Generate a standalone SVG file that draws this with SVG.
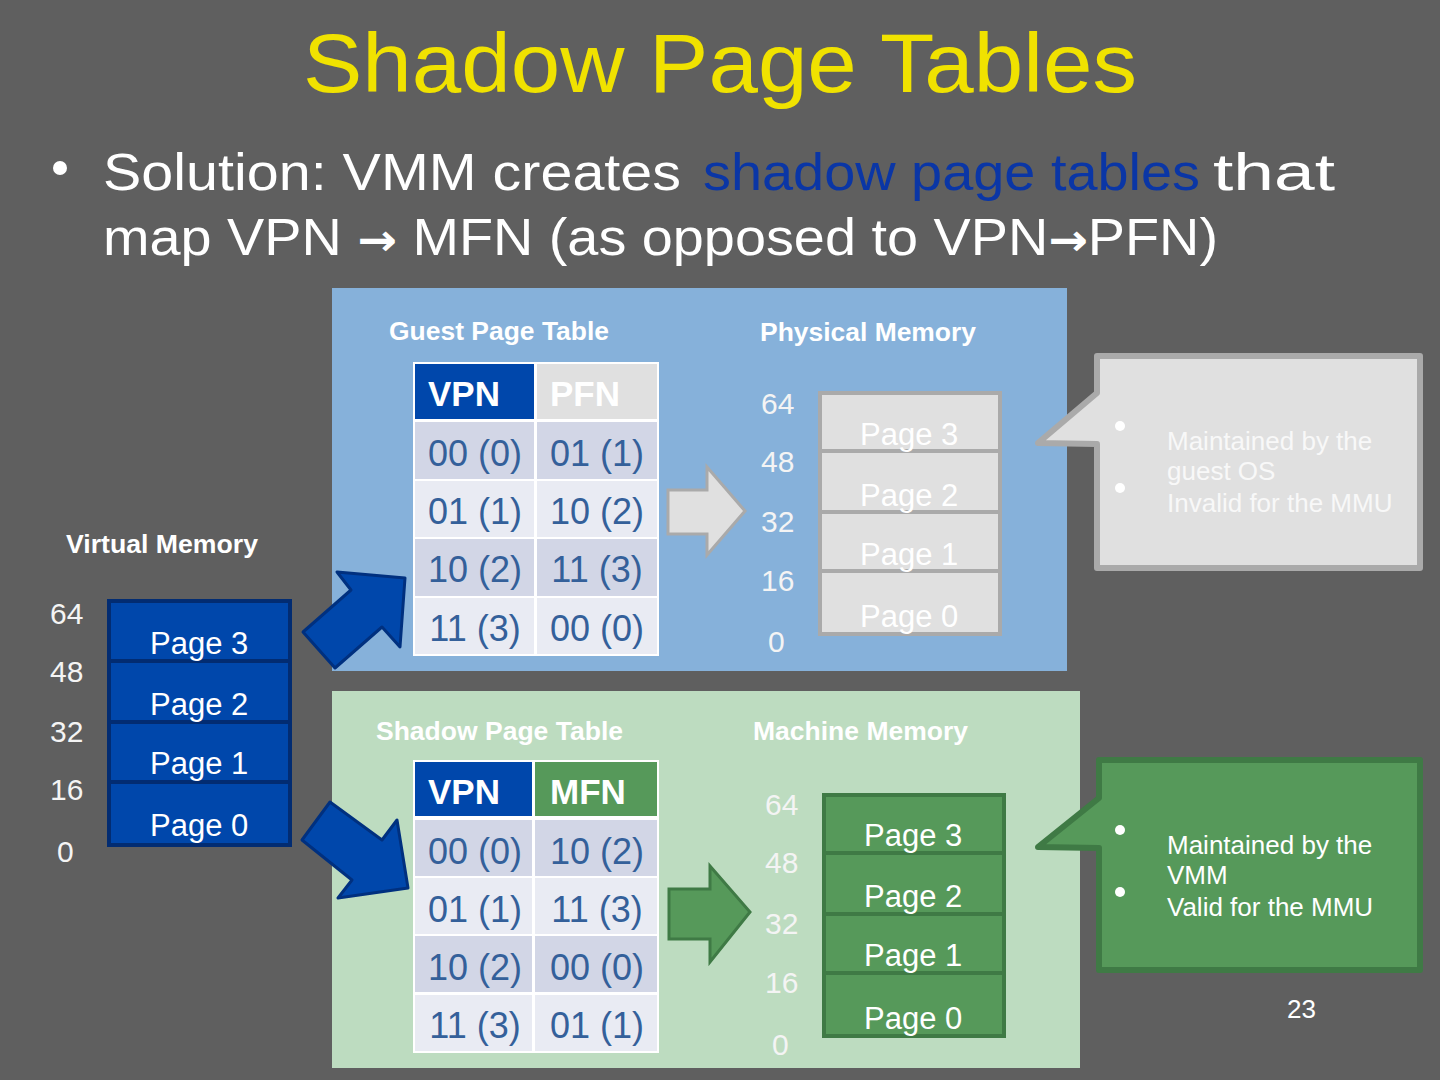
<svg xmlns="http://www.w3.org/2000/svg" width="1440" height="1080" viewBox="0 0 1440 1080">
<style>
.t{font-family:"Liberation Sans",Arial,sans-serif}
.lbl{font-family:"Liberation Sans",Arial,sans-serif;font-weight:bold;font-size:25px;fill:#ffffff}
.num{font-family:"Liberation Sans",Arial,sans-serif;font-size:30px;fill:#f4f4f4}
.pg{font-family:"Liberation Sans",Arial,sans-serif;font-size:31px;fill:#ffffff}
.cell{font-family:"Liberation Sans",Arial,sans-serif;font-size:36px;fill:#34609a;text-anchor:middle}
.hdr{font-family:"Liberation Sans",Arial,sans-serif;font-size:35px;font-weight:bold;fill:#ffffff}
.rd{fill:#d2d6e6}
.rl{fill:#e9ebf3}
.co{font-family:"Liberation Sans",Arial,sans-serif;font-size:26px}
.bul{font-family:"Comic Sans MS","Liberation Sans",sans-serif;font-size:52px;fill:#ffffff}
.ar{font-family:"DejaVu Sans",sans-serif;font-size:44px;font-weight:bold}
</style>
<rect width="1440" height="1080" fill="#5f5f5f"/>
<text x="720" y="92" class="t" font-size="84" fill="#f0e200" text-anchor="middle" textLength="834" lengthAdjust="spacingAndGlyphs">Shadow Page Tables</text>
<circle cx="60" cy="168" r="7" fill="#ffffff"/>
<text x="103" y="190" class="bul" textLength="578" lengthAdjust="spacingAndGlyphs">Solution: VMM creates</text>
<text x="703" y="190" class="bul" style="fill:#0a36a6" textLength="497" lengthAdjust="spacingAndGlyphs">shadow page tables</text>
<text x="1213" y="190" class="bul" textLength="122" lengthAdjust="spacingAndGlyphs">that</text>
<text x="103" y="255" class="bul" textLength="1115" lengthAdjust="spacingAndGlyphs">map VPN <tspan class="ar">→</tspan> MFN (as opposed to VPN<tspan class="ar">→</tspan>PFN)</text>

<rect x="332" y="288" width="735" height="383" fill="#86b1da"/>
<rect x="332" y="691" width="748" height="377" fill="#bddcc0"/>

<g id="virtual-memory">
<text x="66" y="553" class="lbl" textLength="192" lengthAdjust="spacingAndGlyphs">Virtual Memory</text>
<text x="50" y="624" class="num">64</text>
<text x="50" y="682" class="num">48</text>
<text x="50" y="742" class="num">32</text>
<text x="50" y="800" class="num">16</text>
<text x="57" y="862" class="num">0</text>
<g fill="#0047ab" stroke="#022c72" stroke-width="4">
<rect x="109" y="601" width="181" height="60"/>
<rect x="109" y="661" width="181" height="61"/>
<rect x="109" y="722" width="181" height="60"/>
<rect x="109" y="782" width="181" height="63"/>
</g>
<text x="150" y="654" class="pg">Page 3</text>
<text x="150" y="715" class="pg">Page 2</text>
<text x="150" y="774" class="pg">Page 1</text>
<text x="150" y="836" class="pg">Page 0</text>
</g>

<g id="guest-page-table">
<text x="389" y="340" class="lbl" textLength="220" lengthAdjust="spacingAndGlyphs">Guest Page Table</text>
<rect x="413" y="362" width="246" height="294" fill="#ffffff"/>
<rect x="415" y="364" width="119" height="55" fill="#0047ab"/>
<rect x="537" y="364" width="120" height="55" fill="#e0e0e0"/>
<rect x="415" y="422" width="119" height="57" class="rd"/>
<rect x="537" y="422" width="120" height="57" class="rd"/>
<rect x="415" y="481" width="119" height="56" class="rl"/>
<rect x="537" y="481" width="120" height="56" class="rl"/>
<rect x="415" y="539" width="119" height="57" class="rd"/>
<rect x="537" y="539" width="120" height="57" class="rd"/>
<rect x="415" y="598" width="119" height="56" class="rl"/>
<rect x="537" y="598" width="120" height="56" class="rl"/>
<text x="428" y="406" class="hdr">VPN</text>
<text x="550" y="406" class="hdr">PFN</text>
<text x="475" y="466" class="cell">00 (0)</text>
<text x="597" y="466" class="cell">01 (1)</text>
<text x="475" y="524" class="cell">01 (1)</text>
<text x="597" y="524" class="cell">10 (2)</text>
<text x="475" y="582" class="cell">10 (2)</text>
<text x="597" y="582" class="cell">11 (3)</text>
<text x="475" y="641" class="cell">11 (3)</text>
<text x="597" y="641" class="cell">00 (0)</text>
</g>

<g id="physical-memory">
<text x="760" y="341" class="lbl" textLength="216" lengthAdjust="spacingAndGlyphs">Physical Memory</text>
<text x="761" y="414" class="num">64</text>
<text x="761" y="472" class="num">48</text>
<text x="761" y="532" class="num">32</text>
<text x="761" y="591" class="num">16</text>
<text x="768" y="652" class="num">0</text>
<g fill="#e0e0e0" stroke="#aaaaaa" stroke-width="4">
<rect x="820" y="393" width="180" height="58"/>
<rect x="820" y="451" width="180" height="61"/>
<rect x="820" y="512" width="180" height="59"/>
<rect x="820" y="571" width="180" height="63"/>
</g>
<text x="860" y="445" class="pg">Page 3</text>
<text x="860" y="506" class="pg">Page 2</text>
<text x="860" y="565" class="pg">Page 1</text>
<text x="860" y="627" class="pg">Page 0</text>
</g>

<g id="shadow-page-table">
<text x="376" y="740" class="lbl" textLength="247" lengthAdjust="spacingAndGlyphs">Shadow Page Table</text>
<rect x="413" y="760" width="246" height="293" fill="#ffffff"/>
<rect x="415" y="762" width="117" height="54" fill="#0047ab"/>
<rect x="535" y="762" width="122" height="54" fill="#56995a"/>
<rect x="415" y="820" width="117" height="56" class="rd"/>
<rect x="535" y="820" width="122" height="56" class="rd"/>
<rect x="415" y="878" width="117" height="56" class="rl"/>
<rect x="535" y="878" width="122" height="56" class="rl"/>
<rect x="415" y="936" width="117" height="56" class="rd"/>
<rect x="535" y="936" width="122" height="56" class="rd"/>
<rect x="415" y="995" width="117" height="56" class="rl"/>
<rect x="535" y="995" width="122" height="56" class="rl"/>
<text x="428" y="804" class="hdr">VPN</text>
<text x="550" y="804" class="hdr">MFN</text>
<text x="475" y="864" class="cell">00 (0)</text>
<text x="597" y="864" class="cell">10 (2)</text>
<text x="475" y="922" class="cell">01 (1)</text>
<text x="597" y="922" class="cell">11 (3)</text>
<text x="475" y="980" class="cell">10 (2)</text>
<text x="597" y="980" class="cell">00 (0)</text>
<text x="475" y="1038" class="cell">11 (3)</text>
<text x="597" y="1038" class="cell">01 (1)</text>
</g>

<g id="machine-memory">
<text x="753" y="740" class="lbl" textLength="215" lengthAdjust="spacingAndGlyphs">Machine Memory</text>
<text x="765" y="815" class="num">64</text>
<text x="765" y="873" class="num">48</text>
<text x="765" y="934" class="num">32</text>
<text x="765" y="993" class="num">16</text>
<text x="772" y="1055" class="num">0</text>
<g fill="#56995a" stroke="#3f7a45" stroke-width="4">
<rect x="824" y="795" width="180" height="58"/>
<rect x="824" y="853" width="180" height="61"/>
<rect x="824" y="914" width="180" height="59"/>
<rect x="824" y="973" width="180" height="63"/>
</g>
<text x="864" y="846" class="pg">Page 3</text>
<text x="864" y="907" class="pg">Page 2</text>
<text x="864" y="966" class="pg">Page 1</text>
<text x="864" y="1029" class="pg">Page 0</text>
</g>

<g id="callout-guest">
<path d="M1097,356 H1420 V568 H1097 V444 L1038,443 L1097,393 Z" fill="#e0e0e0" stroke="#aaaaaa" stroke-width="6" stroke-linejoin="round"/>
<circle cx="1120" cy="426" r="5" fill="#ffffff"/>
<circle cx="1120" cy="488" r="5" fill="#ffffff"/>
<text x="1167" y="450" class="co" fill="#f8f8f8">Maintained by the</text>
<text x="1167" y="480" class="co" fill="#f8f8f8">guest OS</text>
<text x="1167" y="512" class="co" fill="#f8f8f8">Invalid for the MMU</text>
</g>

<g id="callout-shadow">
<path d="M1099,760 H1420 V970 H1099 V848 L1038,847 L1099,798 Z" fill="#56995a" stroke="#3f7a45" stroke-width="6" stroke-linejoin="round"/>
<circle cx="1120" cy="830" r="5" fill="#ffffff"/>
<circle cx="1120" cy="892" r="5" fill="#ffffff"/>
<text x="1167" y="854" class="co" fill="#ffffff">Maintained by the</text>
<text x="1167" y="884" class="co" fill="#ffffff">VMM</text>
<text x="1167" y="916" class="co" fill="#ffffff">Valid for the MMU</text>
</g>

<g id="connectors">
<polygon points="337,572 405,578 400,647 382,627 335,668 303,632 351,590" fill="#0047ab" stroke="#00307f" stroke-width="3" stroke-linejoin="round"/>
<polygon points="330,802 382,840 397,820 408,888 338,898 352,880 302,840" fill="#0047ab" stroke="#00307f" stroke-width="3" stroke-linejoin="round"/>
<polygon points="668,490 707,490 707,467 745,511 707,555 707,534 668,534" fill="#e0e0e0" stroke="#aaaaaa" stroke-width="3"/>
<polygon points="669,889 710,889 710,866 750,912 710,962 710,939 669,939" fill="#56995a" stroke="#3f7a45" stroke-width="3"/>
</g>

<text x="1287" y="1018" class="t" font-size="26" fill="#ffffff">23</text>
</svg>
